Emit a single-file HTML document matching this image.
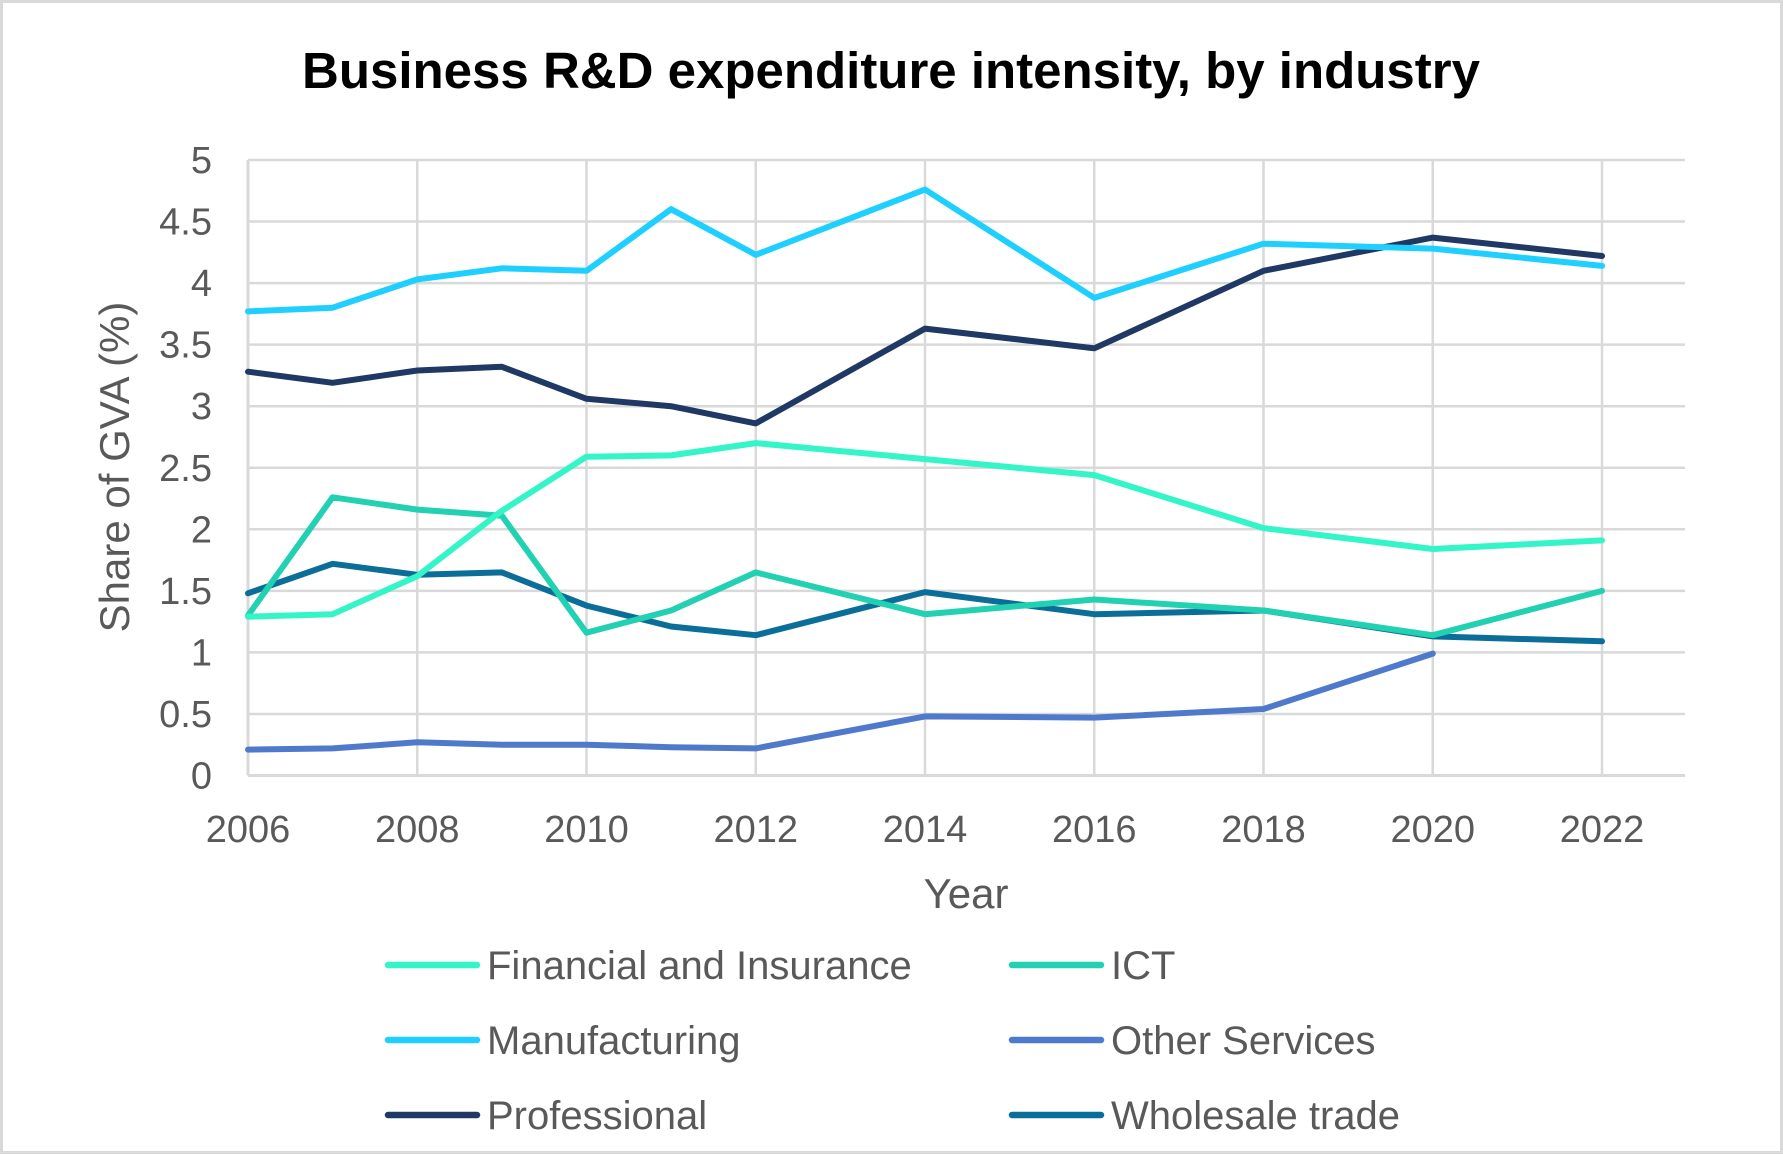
<!DOCTYPE html>
<html><head><meta charset="utf-8">
<style>
html,body{margin:0;padding:0;background:#fff;}
svg{display:block;font-family:"Liberation Sans",sans-serif;}
</style></head>
<body>
<svg id="chart" width="1783" height="1155" viewBox="0 0 1783 1155" xmlns="http://www.w3.org/2000/svg">
<rect x="1.5" y="1.5" width="1780" height="1151" fill="#fff" stroke="#d9d9d9" stroke-width="3"/>
<text x="891" y="88" text-anchor="middle" font-size="51" font-weight="bold" fill="#000">Business R&amp;D expenditure intensity, by industry</text>
<g id="grid"></g>
<g id="axes"></g>
<g id="series"></g>
<text x="966" y="908" text-anchor="middle" font-size="42" fill="#595959">Year</text>
<text transform="translate(129,467) rotate(-90)" text-anchor="middle" font-size="42" fill="#595959">Share of GVA (%)</text>
<g id="legend"></g>
</svg>
<script>
const years = [2006,2007,2008,2009,2010,2011,2012,2014,2016,2018,2020,2022];
const financial = [1.29,1.31,1.62,2.15,2.59,2.60,2.70,2.57,2.44,2.01,1.84,1.91];
const ict = [1.30,2.26,2.16,2.11,1.16,1.34,1.65,1.31,1.43,1.34,1.14,1.50];
const manufacturing = [3.77,3.80,4.03,4.12,4.10,4.60,4.23,4.76,3.88,4.32,4.28,4.14];
const otherServices = [0.21,0.22,0.27,0.25,0.25,0.23,0.22,0.48,0.47,0.54,0.99,null];
const professional = [3.28,3.19,3.29,3.32,3.06,3.00,2.86,3.63,3.47,4.10,4.37,4.22];
const wholesale = [1.48,1.72,1.63,1.65,1.38,1.21,1.14,1.49,1.31,1.34,1.13,1.09];
const yTicks = [0,0.5,1,1.5,2,2.5,3,3.5,4,4.5,5];
const yTickLabels = ["0","0.5","1","1.5","2","2.5","3","3.5","4","4.5","5"];
const xTicks = [2006,2008,2010,2012,2014,2016,2018,2020,2022];
const seriesNames = ["Financial and Insurance","ICT","Manufacturing","Other Services","Professional","Wholesale trade"];
const seriesColors = ["#33f5c8","#22d1b2","#1fcfff","#4f7acc","#1f3864","#0a6e99"];

const NS="http://www.w3.org/2000/svg";
const L=248,R=1685,T=160,B=775.5;
const x0=2006,x1=2022,xR=1602;
function xs(v){return L+(v-x0)/(x1-x0)*(xR-L);}
function ys(v){return B-(v/5)*(B-T);}
function mk(tag,attrs,parent){const e=document.createElementNS(NS,tag);for(const k in attrs)e.setAttribute(k,attrs[k]);parent.appendChild(e);return e;}
const grid=document.getElementById('grid'),axes=document.getElementById('axes'),ser=document.getElementById('series'),leg=document.getElementById('legend');

yTicks.forEach((t,i)=>{
  const ln=mk('line',{x1:L,x2:R,y1:ys(t),y2:ys(t),stroke:'#d9d9d9','stroke-width':t===0?3:2.5},grid);
  
  
  const tx=mk('text',{x:212,y:ys(t)+13,'text-anchor':'end','font-size':38,fill:'#595959'},axes);
  tx.textContent=yTickLabels[i];
  
  
});
xTicks.forEach(t=>{
  const ln=mk('line',{x1:xs(t),x2:xs(t),y1:T,y2:B,stroke:'#d9d9d9','stroke-width':2.5},grid);
  
  
  const tx=mk('text',{x:xs(t),y:842,'text-anchor':'middle','font-size':38,fill:'#595959'},axes);
  tx.textContent=String(t);
  
  
});
const va=mk('line',{x1:L,x2:L,y1:T,y2:B,stroke:'#d9d9d9','stroke-width':3},grid);



const allSeries=[financial,ict,manufacturing,otherServices,professional,wholesale];
const drawOrder=[3,5,1,0,4,2];
drawOrder.forEach(si=>{
  const vals=allSeries[si];
  let d='';
  vals.forEach((v,i)=>{if(v===null)return;d+=(d?'L':'M')+xs(years[i]).toFixed(1)+','+ys(v).toFixed(1);});
  const p=mk('path',{d:d,fill:'none',stroke:seriesColors[si],'stroke-width':6,'stroke-linejoin':'round','stroke-linecap':'round'},ser);
  
  
});

const legX=[388,1012],legY=[965,1040,1115];
seriesNames.forEach((n,i)=>{
  const cx=legX[i%2],cy=legY[Math.floor(i/2)];
  const g=mk('g',{},leg);
  
  
  mk('line',{x1:cx,x2:cx+89,y1:cy,y2:cy,stroke:seriesColors[i],'stroke-width':6.5,'stroke-linecap':'round'},g);
  const t=mk('text',{x:cx+99,y:cy+14,'font-size':40,fill:'#595959'},g);
  t.textContent=n;
});
</script>
</body></html>
